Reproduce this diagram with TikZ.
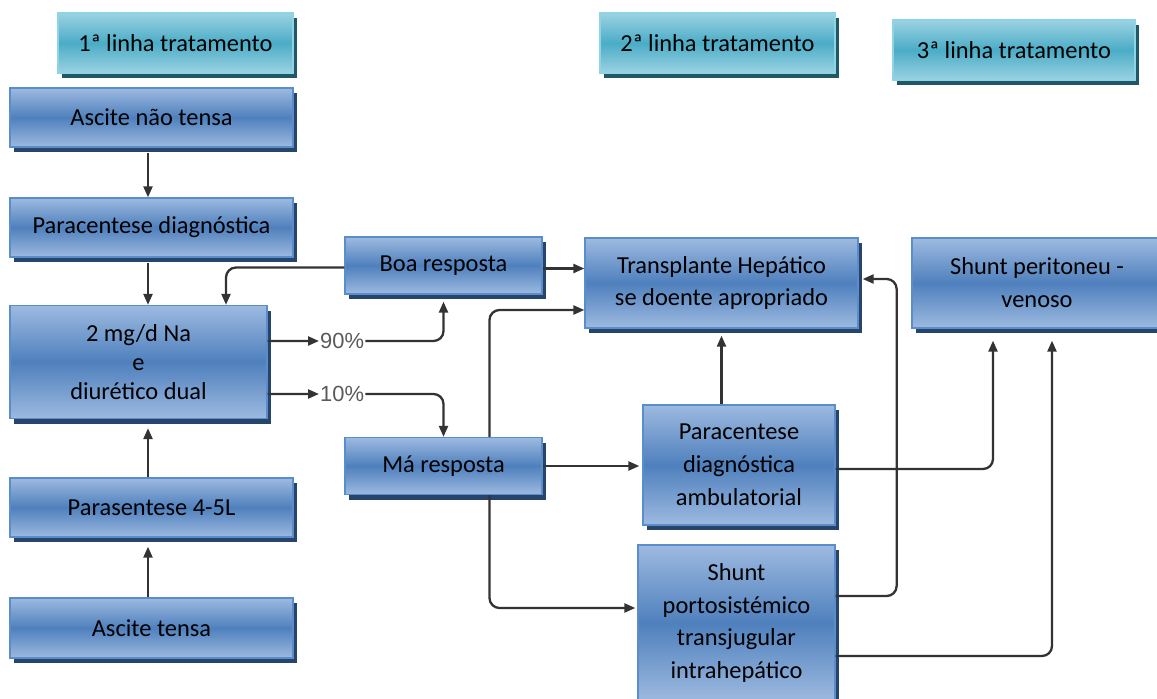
\documentclass[tikz,border=0pt]{standalone}
\usepackage{fontspec}
\setmainfont{Carlito}
\newfontfamily\pctfont{Liberation Sans}
\usetikzlibrary{arrows.meta,shadows,calc}

\definecolor{bluelight}{HTML}{9DBAE0}
\definecolor{bluemid}{HTML}{4F80BD}
\definecolor{blueedge}{HTML}{5A8DCB}
\definecolor{blueshadow}{HTML}{27446B}
\definecolor{teallight}{HTML}{9BD2E2}
\definecolor{tealmid}{HTML}{4BACC6}
\definecolor{tealedge}{HTML}{8FD3E6}
\definecolor{tealshadow}{HTML}{215868}
\definecolor{linegray}{HTML}{333333}
\definecolor{pctgray}{HTML}{5A5A5A}

\tikzset{
  stepbox/.style={draw=blueedge, line width=1.3bp,
    top color=bluelight, bottom color=bluelight, middle color=bluemid,
    drop shadow={shadow xshift=4bp, shadow yshift=-5bp, fill=blueshadow, opacity=1},
    align=center, inner sep=2bp, text=black,
    font=\fontsize{24.5}{33}\selectfont},
  headbox/.style={draw=tealedge, line width=1.3bp,
    top color=teallight, bottom color=teallight, middle color=tealmid,
    drop shadow={shadow xshift=4bp, shadow yshift=-5bp, fill=tealshadow, opacity=1},
    align=center, inner sep=2bp, text=black,
    font=\fontsize{24.5}{33}\selectfont},
  pct/.style={font=\pctfont\fontsize{22}{26}\selectfont, text=pctgray,
    inner sep=1bp, anchor=west},
  arr/.style={draw=linegray, line width=2.3bp,
    -{Triangle[length=11bp,width=9bp]}},
}

\begin{document}
\begin{tikzpicture}[x=1bp, y=-1bp]
\useasboundingbox (0,0) rectangle (1157,699);

% column headers
\node[headbox, minimum width=235bp, minimum height=60bp] (h1) at (175.5,43) {1ª linha tratamento};
\node[headbox, minimum width=235bp, minimum height=60bp] (h2) at (717.5,43) {2ª linha tratamento};
\node[headbox, minimum width=242bp, minimum height=60bp] (h3) at (1014,50) {3ª linha tratamento};

% first line of treatment
\node[stepbox, minimum width=283bp, minimum height=59bp] (a1) at (151.5,117.5) {Ascite não tensa};
\node[stepbox, minimum width=283bp, minimum height=59bp] (pd) at (151.5,227.5) {Paracentese diagnóstica};
\node[stepbox, minimum width=257bp, minimum height=113bp,
      font=\fontsize{24.5}{29}\selectfont] (na) at (138.5,362) {2 mg/d Na\\e\\diurético dual};
\node[stepbox, minimum width=283bp, minimum height=59bp] (ps) at (151.5,507.5) {Parasentese 4-5L};
\node[stepbox, minimum width=283bp, minimum height=60bp] (at) at (151.5,628) {Ascite tensa};

% response
\node[stepbox, minimum width=197bp, minimum height=57bp] (boa) at (443.5,265.5) {Boa resposta};
\node[stepbox, minimum width=197bp, minimum height=57bp] (ma) at (443.5,466) {Má resposta};

% second and third line
\node[stepbox, minimum width=273bp, minimum height=90bp] (tr) at (721.5,283) {Transplante Hepático\\se doente apropriado};
\node[stepbox, minimum width=250bp, minimum height=90bp] (sp) at (1037,283) {Shunt peritoneu -\\venoso};
\node[stepbox, minimum width=192bp, minimum height=120bp] (pa) at (739,465) {Paracentese\\diagnóstica\\ambulatorial};
\node[stepbox, minimum width=197bp, minimum height=156bp] (tips) at (736.5,623) {Shunt\\portosistémico\\transjugular\\intrahepático};

% percentage labels
\node[pct] (p90) at (319,341) {90\%};
\node[pct] (p10) at (319,394) {10\%};

% left column flow
\draw[arr] ([xshift=-3.5bp,yshift=-5bp]a1.south) -- ([xshift=-3.5bp]pd.north);
\draw[arr] ([xshift=-3.5bp,yshift=-5bp]pd.south) -- ([xshift=-3.5bp]pd.south |- na.north);
\draw[arr] ([xshift=-3.5bp]ps.north) -- ([xshift=-3.5bp,yshift=-9bp]ps.north |- na.south);
\draw[arr] ([xshift=-3.5bp]at.north) -- ([xshift=-3.5bp,yshift=-9bp]ps.south);

% good response loops back
\draw[arr, rounded corners=10bp] ([yshift=-2bp]boa.west) -| ([xshift=87.5bp]na.north);

% split of outcomes
\draw[arr] ([yshift=21bp]na.east) -- (p90.west);
\draw[arr, rounded corners=10bp] (p90.east) -| ([yshift=-7bp]boa.south);
\draw[arr] ([yshift=-32bp]na.east) -- (p10.west);
\draw[arr, rounded corners=10bp] (p10.east) -| (ma.north);

% towards transplant
\draw[arr] ([yshift=-3bp]boa.east) -- ([yshift=-3bp]boa.east -| tr.west);
\draw[arr, rounded corners=10bp] ([xshift=46bp]ma.north) |- ([yshift=-27bp]tr.west);
\draw[arr] (tr.south |- pa.north) -- ([yshift=-7bp]tr.south);

% poor response
\draw[arr] (ma.east) -- ([xshift=-3bp]ma.east -| pa.west);
\draw[arr, rounded corners=10bp] ([xshift=46bp]ma.south) |- ([xshift=-2bp,yshift=15bp]tips.west);

% third line
\draw[arr, rounded corners=10bp] ([yshift=-4bp]pa.east) -| ([xshift=-44bp,yshift=-12bp]sp.south);
\draw[arr, rounded corners=10bp] ([yshift=27bp]tips.east) -| ([xshift=38bp,yshift=4bp]tr.east) -- ([xshift=4bp,yshift=4bp]tr.east);
\draw[arr, rounded corners=10bp] ([yshift=-33bp]tips.east) -| ([xshift=15bp,yshift=-12bp]sp.south);

\end{tikzpicture}
\end{document}
